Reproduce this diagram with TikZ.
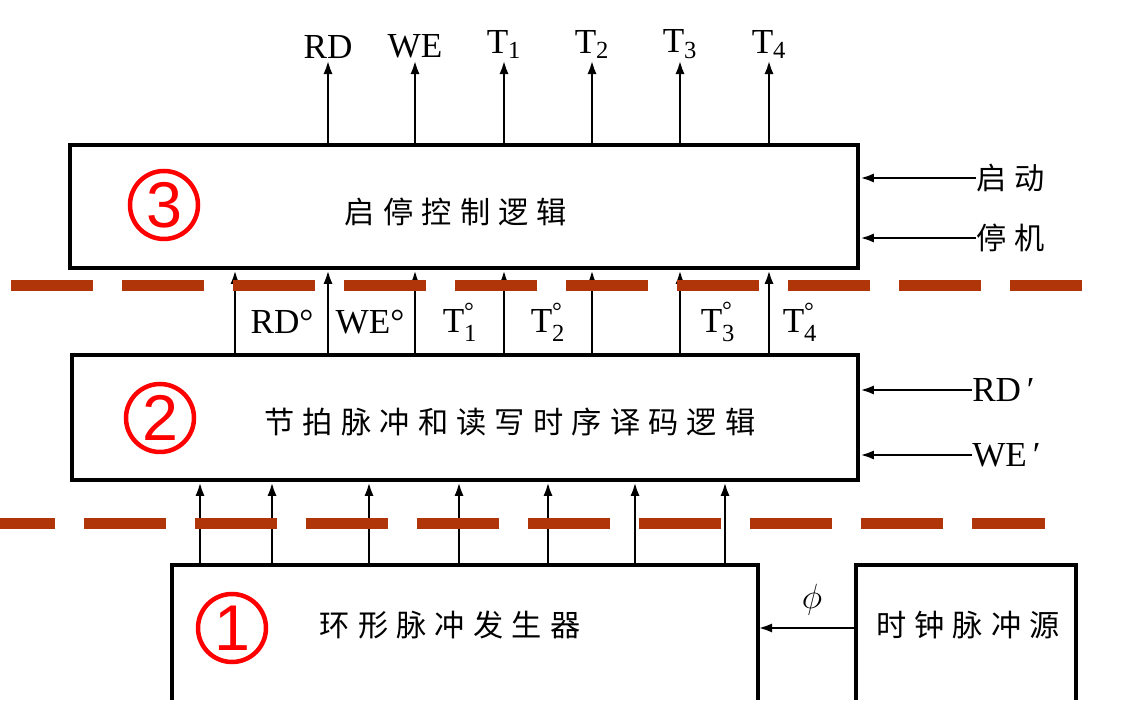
\documentclass[tikz,border=0pt]{standalone}
\usepackage{amsmath}
\usepackage{fontspec}
\setmainfont{Liberation Serif}
\newfontfamily\cjk[LetterSpace=27]{Noto Sans CJK SC}
\newfontfamily\numfont{Liberation Sans}
\usetikzlibrary{positioning,arrows.meta,calc}
\definecolor{rust}{RGB}{176,53,8}
\definecolor{numred}{RGB}{255,0,0}
\newcommand{\tdeg}[1]{$\text{T}^{\text{°}}_{\text{#1}}$}

\tikzset{
  block/.style={draw,line width=2.6pt,inner sep=0pt},
  frame/.style={line width=2.6pt},
  sig/.style={line width=2pt},
  zh/.style={font=\cjk\fontsize{21.5}{21.5}\selectfont},
  numcirc/.style={circle,draw=numred,line width=3.2pt,minimum size=1.7cm,inner sep=0pt,
    text=numred,font=\numfont\fontsize{46}{46}\selectfont},
  sep/.style={draw=rust,line width=0.275cm,dash pattern=on 2.05cm off 0.725cm}
}

\begin{document}
\begin{tikzpicture}[every node/.style={font=\fontsize{25}{25}\selectfont},>={Latex[length=10pt,width=6.5pt]}]
\useasboundingbox (0,0) rectangle (28.2,17.55);
% the three blocks and the clock
\node[block,minimum width=19.7cm,minimum height=3.075cm] (ctrl) at (11.6,12.3875) {};
\node[block,minimum width=19.65cm,minimum height=3.125cm] (decode) at (11.625,7.1125) {};
\node[minimum width=14.65cm,minimum height=3.375cm,inner sep=0pt,outer sep=0pt] (ring) at (11.625,1.7375) {};
\node[minimum width=5.5cm,minimum height=3.375cm,inner sep=0pt,outer sep=0pt] (clock) at (24.15,1.7375) {};
\draw[frame] (ring.south west) |- (ring.north east) -- (ring.south east);
\draw[frame] (clock.south west) |- (clock.north east) -- (clock.south east);
\node[zh] (ctrltxt) at (11.4,12.25) {启停控制逻辑};
\node[zh] (decodetxt) at (12.75,7.0) {节拍脉冲和读写时序译码逻辑};
\node[zh] (ringtxt) at (11.25,1.925) {环形脉冲发生器};
\node[zh] (clocktxt) at (24.2,1.925) {时钟脉冲源};
% circled numbers
\node[numcirc] (n3) at (4.1,12.425) {3};
\node[numcirc] (n2) at (4.0,7.1) {2};
\node[numcirc] (n1) at (5.8,1.85) {1};
% outputs on top
\foreach \x/\name/\lab in {8.2/rd/RD,10.375/we/WE,12.6/ta/T\textsubscript{1},
    14.8/tb/T\textsubscript{2},17.0/tc/T\textsubscript{3},19.225/td/T\textsubscript{4}}{
  \node[anchor=south,inner sep=1pt] (out\name) at (\x,16.05) {\lab};
  \draw[sig,->] (\x,0 |- ctrl.north) -- (out\name);
}
% decode -> control
\foreach \x in {5.875,8.2,10.375,12.6,14.8,17.0,19.225}
  \draw[sig,->] (\x,0 |- decode.north) -- (\x,0 |- ctrl.south);
\node (lrd) at (7.05,9.5) {RD°};
\node (lwe) at (9.25,9.5) {WE°};
\node (lta) at (11.5,9.5) {\tdeg{1}};
\node (ltb) at (13.7,9.5) {\tdeg{2}};
\node (ltc) at (17.95,9.5) {\tdeg{3}};
\node (ltd) at (20.0,9.5) {\tdeg{4}};
% ring -> decode
\foreach \x in {5.0,6.8,9.225,11.475,13.7,15.875,18.125}
  \draw[sig,->] (\x,0 |- ring.north) -- (\x,0 |- decode.south);
% inputs from the right
\node[zh,anchor=west,inner sep=0pt] (start) at (24.4,13.1) {启动};
\node[zh,anchor=west,inner sep=0pt] (stop) at (24.4,11.6) {停机};
\node[anchor=west,inner sep=0pt] (rdin) at (24.3,7.8) {RD\,′};
\node[anchor=west,inner sep=0pt] (wein) at (24.3,6.175) {WE\,′};
\foreach \n in {start,stop}
  \draw[sig,->] (\n.west) -- (\n.west -| ctrl.east);
\foreach \n in {rdin,wein}
  \draw[sig,->] (\n.west) -- (\n.west -| decode.east);
% clock -> ring
\draw[sig,->] (clock.west |- 0,1.85) -- (ring.east |- 0,1.85);
\node (phi) at (20.3,2.55) {$\phi$};
% separators
\draw[sep] (0.275,10.4125) -- (27.05,10.4125);
\draw[sep,dash phase=0.675cm] (0,4.4625) -- (26.125,4.4625);
\end{tikzpicture}
\end{document}
